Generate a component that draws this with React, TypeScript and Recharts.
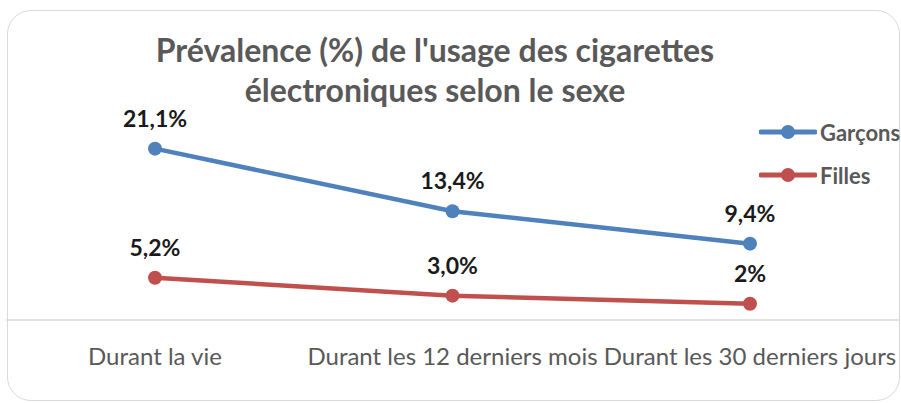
import React from 'react';
import { LineChart, Line, XAxis, YAxis, LabelList } from 'recharts';

const categories = ['Durant la vie', 'Durant les 12 derniers mois', 'Durant les 30 derniers jours'];
const garconsValues = [21.1, 13.4, 9.4];
const fillesValues = [5.2, 3.0, 2.0];
const garconsLabels = ['21,1%', '13,4%', '9,4%'];
const fillesLabels = ['5,2%', '3,0%', '2%'];
const titleLines = ["Prévalence (%) de l'usage des cigarettes", 'électroniques selon le sexe'];

const series = [
  { key: 'garcons', name: 'Garçons', color: '#4F81BD', labels: garconsLabels },
  { key: 'filles', name: 'Filles', color: '#C0504D', labels: fillesLabels },
];

const data = categories.map((c, i) => ({
  cat: c,
  garcons: garconsValues[i],
  filles: fillesValues[i],
}));

const FONT = 'Lato, "Open Sans", sans-serif';

const makeLabel = (labels: string[]) => (props: any) => {
  const { x, y, index } = props;
  return (
    <text x={x} y={y - 31} textAnchor="middle" dominantBaseline="central"
      fontFamily={FONT} fontWeight={700} fontSize={23} fill="#1a1a1a">
      {labels[index]}
    </text>
  );
};

const Tick = (props: any) => {
  const { x, y, payload } = props;
  return (
    <text x={x} y={y + 35} textAnchor="middle" dominantBaseline="central"
      fontFamily={FONT} fontSize={24} fill="#595959">
      {payload.value}
    </text>
  );
};

export default function App() {
  return (
    <div style={{ position: 'absolute', left: 0, top: 0, width: 901, height: 403, background: '#fff', overflow: 'hidden' }}>
      <div style={{ position: 'absolute', left: 7, top: 10, width: 893, height: 391, border: '1.5px solid #d9d9d9', borderRadius: 24, boxSizing: 'border-box' }} />
      <LineChart width={901} height={403} data={data} margin={{ top: 117, right: 2, bottom: 33, left: 6 }}>
        <XAxis dataKey="cat" height={50} tickLine={false} tickSize={0} tickMargin={0}
          padding={{ left: 149, right: 149 }}
          axisLine={{ stroke: '#d9d9d9', strokeWidth: 1.5 }} tick={<Tick />} interval={0} />
        <YAxis hide domain={[0, 25]} />
        {series.map((s) => (
          <Line key={s.key} dataKey={s.key} name={s.name} stroke={s.color} strokeWidth={4.5}
            dot={{ r: 7, fill: s.color, stroke: s.color, strokeWidth: 0 }} isAnimationActive={false}>
            <LabelList dataKey={s.key} content={makeLabel(s.labels)} />
          </Line>
        ))}
      </LineChart>
      <div style={{ position: 'absolute', left: 0, top: 30, width: 870, textAlign: 'center', fontFamily: FONT, fontWeight: 700, fontSize: 32, lineHeight: '40px', color: '#595959' }}>
        {titleLines.map((t, i) => <div key={i}>{t}</div>)}
      </div>
      <div style={{ position: 'absolute', left: 759, top: 117 }}>
        {series.map((s, i) => (
          <div key={s.key} style={{ display: 'flex', alignItems: 'center', height: 30, marginBottom: i === 0 ? 13 : 0 }}>
            <svg width={58} height={20}>
              <line x1={2} y1={10} x2={56} y2={10} stroke={s.color} strokeWidth={5} strokeLinecap="round" />
              <circle cx={29} cy={10} r={7} fill={s.color} />
            </svg>
            <span style={{ fontFamily: FONT, fontWeight: 700, fontSize: 22, color: '#595959', marginLeft: 3 }}>{s.name}</span>
          </div>
        ))}
      </div>
    </div>
  );
}
